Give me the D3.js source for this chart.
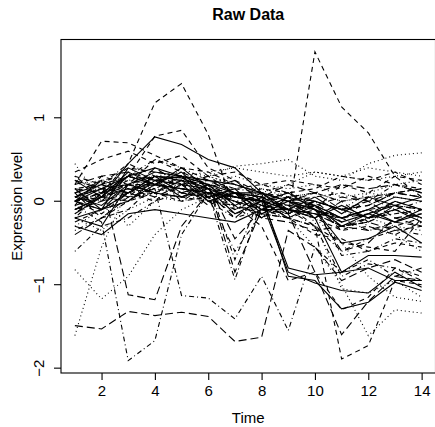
<!DOCTYPE html>
<html>
<head>
<meta charset="utf-8">
<script src="https://cdn.jsdelivr.net/npm/d3@7"></script>
<style>
  body { margin: 0; background: #fff; }
  svg { display: block; font-family: "Liberation Sans", Arial, Helvetica, sans-serif; }
</style>
</head>
<body>
<div id="chart"></div>
<script>
// time points
var times = [1, 2, 3, 4, 5, 6, 7, 8, 9, 10, 11, 12, 13, 14];
var xTicks = [2, 4, 6, 8, 10, 12, 14];
var yTicks = [-2, -1, 0, 1];

// one row per gene, line type cycles solid / dashed / dotted / dotdash / longdash
var seriesA = [
  [-0.1, 0.05, 0.45, 0.77, 0.68, 0.5, 0.4, 0.1, -0.9, -0.95, -1.29, -1.21, -0.97, -1.07],
  [0.05, 0.15, 0.2, 0.1, 0.0, 0.05, -0.15, -0.05, -0.15, 1.79, 1.13, 0.82, 0.3, 0.05],
  [0.1, 0.2, 0.25, 0.3, 0.2, 0.3, 0.42, 0.45, 0.5, 0.3, 0.25, 0.45, 0.55, 0.58],
  [-0.05, -0.25, -1.91, -1.67, -0.4, 0.1, 0.05, 0.0, -0.1, -0.15, -0.3, -0.25, -0.1, -0.2],
  [-1.49, -1.53, -1.32, -1.37, -1.33, -1.38, -1.68, -1.63, -0.35, -0.55, -0.95, -0.8, -0.7, -0.85],
  [0.0, -0.1, 0.1, 0.3, 0.28, 0.15, 0.05, 0.0, -0.85, -0.98, -1.07, -1.1, -0.85, -1.03],
  [0.0, 0.1, 0.45, 1.18, 1.41, 0.8, -0.1, 0.05, -0.1, -0.2, -0.35, -0.2, -0.1, -0.2],
  [-1.61, -0.55, 0.15, 0.2, 0.15, 0.1, 0.0, 0.05, -0.05, 0.0, -0.1, 0.1, 0.05, 0.0],
  [0.3, 0.05, 0.2, 0.15, -1.13, -1.16, -1.41, -0.9, -1.55, -0.55, -0.85, -0.7, -0.9, -0.8],
  [0.1, 0.25, -1.12, -1.18, -0.3, 0.1, 0.05, 0.0, -0.1, -0.05, -0.2, -0.15, 0.0, -0.1]
];
var seriesB = [
  [-0.2, -0.3, 0.2, 0.35, 0.3, 0.2, 0.1, 0.05, -0.8, -0.88, -0.85, -0.65, -0.65, -0.67],
  [0.2, 0.72, 0.7, 0.55, 0.4, 0.35, 0.2, 0.1, 0.0, -0.1, 0.2, 0.1, 0.3, 0.25],
  [-0.82, -1.17, -0.9, -0.4, -0.1, 0.05, 0.1, 0.0, 0.05, 0.1, 0.0, 0.05, 0.1, 0.05],
  [0.0, 0.1, 0.25, 0.2, 0.15, 0.1, -0.94, 0.0, -0.05, -0.1, -0.2, -0.1, -0.05, -0.1],
  [0.15, 0.1, 0.3, 0.2, 0.25, 0.2, -0.85, -0.1, 0.05, 0.0, -0.1, -0.05, 0.1, 0.05],
  [-0.3, -0.4, -0.15, -0.1, -0.15, -0.2, -0.25, -0.1, -0.1, -0.15, -0.2, -0.1, 0.05, 0.0],
  [0.1, 0.2, 0.3, 0.78, 0.85, 0.4, 0.25, 0.1, 0.05, 0.0, -0.1, -0.05, 0.1, 0.15],
  [0.0, 0.05, 0.1, 0.15, 0.1, 0.05, 0.0, -0.1, -0.2, -0.55, -1.0, -1.61, -1.3, -1.34],
  [-0.2, 0.1, 0.3, 0.25, 0.2, 0.15, 0.05, -0.05, -0.1, -0.3, -0.6, -0.45, -0.35, -0.4],
  [0.05, 0.15, 0.2, 0.3, 0.25, 0.15, 0.1, 0.0, -0.05, -0.1, -0.6, -0.5, -0.2, -0.3]
];
var seriesC = [
  [0.15, -0.1, 0.4, 0.25, 0.3, 0.0, 0.1, -0.1, 0.05, -0.05, -0.2, -0.1, -0.25, -0.1],
  [0.0, 0.1, 0.2, 0.2, 0.1, 0.05, -0.1, 0.0, -0.2, -0.3, -1.89, -1.73, -0.95, -1.0],
  [0.45, 0.0, 0.3, 0.2, 0.15, 0.1, 0.05, 0.1, 0.0, -0.05, -0.3, -0.2, -0.3, -0.35],
  [-0.15, 0.1, 0.05, 0.3, 0.0, 0.2, -0.1, 0.05, -0.1, 0.0, -0.25, 0.05, -0.1, 0.0],
  [0.2, 0.3, 0.35, 0.25, 0.2, 0.3, 0.1, 0.05, 0.0, -0.05, 0.05, 0.0, 0.1, 0.05],
  [0.05, 0.2, 0.1, 0.3, 0.1, 0.2, -0.05, 0.1, -0.15, 0.0, -0.1, -0.2, 0.0, -0.1],
  [-0.25, -0.1, 0.1, 0.0, 0.2, 0.25, 0.1, -0.2, -0.05, -0.3, -0.5, -0.55, -0.6, -0.2],
  [-0.1, 0.1, -0.3, 0.0, 0.25, 0.3, 0.2, 0.15, 0.05, -0.25, -1.05, -1.1, -0.95, -1.15],
  [0.15, 0.2, 0.05, 0.1, 0.3, 0.2, -0.7, 0.1, 0.0, -0.1, -0.3, -0.2, -0.15, -0.1],
  [-0.05, 0.05, 0.15, 0.2, 0.15, 0.1, 0.0, -0.1, -0.15, -0.85, -1.6, -1.2, -0.9, -0.95]
];
var seriesD = [
  [-0.15, 0.05, 0.3, 0.2, 0.35, 0.05, 0.15, -0.15, 0.0, -0.2, -0.05, -0.2, -0.1, -0.25],
  [0.3, 0.2, 0.4, 0.35, 0.3, 0.25, 0.15, 0.2, 0.1, 0.15, 0.3, 0.25, 0.35, 0.2],
  [0.2, 0.25, 0.3, 0.2, 0.3, 0.35, 0.4, 0.35, 0.3, 0.35, 0.3, 0.25, 0.3, 0.35],
  [0.0, -0.15, 0.1, 0.2, 0.15, 0.0, -0.2, -0.1, -0.15, -0.05, -0.65, -0.6, -0.45, -0.5],
  [-0.4, -0.2, 0.05, 0.15, 0.3, 0.1, -0.2, 0.05, 0.2, 0.1, -0.1, 0.0, -0.2, -0.15],
  [0.05, -0.05, 0.2, 0.1, 0.25, 0.0, 0.1, 0.1, -0.1, 0.05, -0.15, 0.05, -0.05, 0.05],
  [-0.05, 0.3, 0.2, 0.5, 0.35, 0.2, 0.05, 0.15, 0.1, -0.05, -0.35, -0.3, -0.4, -0.25],
  [-0.3, -0.1, 0.05, 0.1, 0.2, 0.15, 0.1, 0.05, 0.1, 0.0, -0.1, -0.3, -0.4, -0.6],
  [0.1, 0.0, 0.3, 0.5, 0.4, 0.25, 0.1, 0.0, 0.05, 0.1, 0.0, 0.05, 0.1, 0.15],
  [0.0, -0.1, 0.2, 0.1, 0.05, 0.2, -0.45, -0.1, 0.0, 0.1, 0.2, 0.15, 0.2, 0.1]
];
var seriesE = [
  [0.25, 0.05, 0.35, 0.2, 0.4, 0.15, 0.25, 0.0, 0.1, -0.1, -0.25, -0.15, -0.05, -0.2],
  [0.1, -0.2, -0.1, 0.2, 0.15, 0.05, -0.05, -0.15, -0.2, -0.4, -0.45, -0.6, -0.5, -0.55],
  [0.05, 0.15, 0.1, 0.3, 0.35, 0.3, 0.2, 0.1, 0.2, 0.35, 0.3, 0.4, 0.35, 0.3],
  [-0.35, -0.2, 0.0, 0.1, 0.05, 0.1, 0.0, -0.1, -0.2, -0.3, -0.9, -0.75, -0.8, -0.9],
  [0.25, 0.15, 0.1, 0.4, 0.2, 0.05, 0.1, -0.05, -0.1, -0.15, -0.3, -0.35, -0.25, -0.3],
  [-0.1, 0.05, 0.0, 0.25, 0.05, 0.15, -0.15, 0.0, -0.2, -0.05, -0.3, -0.15, -0.25, -0.15],
  [0.35, 0.5, 0.6, 0.45, 0.55, 0.3, 0.35, 0.2, 0.25, 0.2, 0.15, 0.3, 0.2, 0.15],
  [-0.2, -0.35, -0.1, 0.05, 0.0, 0.1, 0.05, 0.0, -0.1, -0.2, -0.5, -0.9, -1.15, -1.2],
  [0.1, 0.2, 0.45, 0.3, 0.25, 0.2, 0.15, 0.1, 0.0, 0.05, 0.1, 0.0, 0.2, 0.1],
  [-0.1, 0.0, 0.1, 0.25, 0.2, 0.15, 0.0, -0.2, -0.25, -0.35, -0.3, -0.25, -0.35, -0.3]
];
var seriesF = [
  [-0.2, -0.1, 0.0, 0.2, 0.15, 0.1, 0.05, 0.0, -0.1, -0.2, -0.85, -0.8, -0.95, -0.95],
  [0.0, 0.05, 0.15, 0.1, 0.05, 0.0, -0.05, -0.3, -0.95, -0.85, -1.3, -1.15, -0.8, -0.95],
  [0.3, 0.1, 0.2, 0.25, 0.35, 0.2, 0.3, 0.2, 0.15, 0.2, 0.05, 0.1, 0.2, 0.25],
  [-0.6, -0.3, -0.2, 0.0, 0.1, 0.05, -0.6, -0.15, -0.2, -0.1, -0.2, -0.35, -0.3, -0.2],
  [0.0, 0.25, 0.15, 0.05, 0.2, -0.05, 0.1, -0.2, 0.05, -0.2, 0.0, -0.25, -0.05, -0.1],
  [0.0, 0.15, 0.3, 0.4, 0.3, 0.25, 0.2, 0.1, 0.0, -0.1, -0.5, -0.45, -0.3, -0.5]
];

var series = [].concat(seriesA, seriesB, seriesC, seriesD, seriesE, seriesF);

// R lty 1:5
var dashes = [null, "5,4", "1,3", "1,3,5,3", "8,4"];

var width = 435, height = 427;
var plot = { left: 61, top: 39.5, right: 435.5, bottom: 373 };

var svg = d3.select("#chart").append("svg")
    .attr("width", width)
    .attr("height", height);

// R-style 4% padding around the data range
var xExt = d3.extent(times);
var yExt = d3.extent(d3.merge(series));
var xPad = (xExt[1] - xExt[0]) * 0.04;
var yPad = (yExt[1] - yExt[0]) * 0.04;

var x = d3.scaleLinear()
    .domain([xExt[0] - xPad, xExt[1] + xPad])
    .range([plot.left, plot.right]);
var y = d3.scaleLinear()
    .domain([yExt[0] - yPad, yExt[1] + yPad])
    .range([plot.bottom, plot.top]);

svg.append("defs").append("clipPath")
    .attr("id", "plot-clip")
  .append("rect")
    .attr("x", plot.left)
    .attr("y", plot.top)
    .attr("width", plot.right - plot.left)
    .attr("height", plot.bottom - plot.top);

var line = d3.line()
    .x(function(d, i) { return x(times[i]); })
    .y(function(d) { return y(d); });

svg.append("g")
    .attr("clip-path", "url(#plot-clip)")
    .selectAll("path")
    .data(series)
    .enter()
    .append("path")
    .attr("d", line)
    .attr("fill", "none")
    .attr("stroke", "#000")
    .attr("stroke-width", 1.1)
    .attr("stroke-dasharray", function(d, i) { return dashes[i % 5]; });

// box
svg.append("rect")
    .attr("x", plot.left)
    .attr("y", plot.top)
    .attr("width", plot.right - plot.left)
    .attr("height", plot.bottom - plot.top)
    .attr("fill", "none")
    .attr("stroke", "#000")
    .attr("stroke-width", 1.1);

// x axis
var xAxis = svg.append("g")
    .attr("transform", "translate(0," + plot.bottom + ")")
    .call(d3.axisBottom(x).tickValues(xTicks).tickSize(7).tickPadding(5).tickFormat(d3.format("d")));
xAxis.select(".domain").remove();
xAxis.selectAll("line").attr("stroke", "#000").attr("stroke-width", 1.1);
xAxis.selectAll("text")
    .attr("font-size", 15)
    .attr("font-family", "Liberation Sans, Arial, sans-serif")
    .attr("fill", "#000");

// y axis with rotated labels like R's las=0
var yAxis = svg.append("g")
    .attr("transform", "translate(" + plot.left + ",0)")
    .call(d3.axisLeft(y).tickValues(yTicks).tickSize(7).tickFormat(function(d) { return d < 0 ? "\u2212" + Math.abs(d) : d; }));
yAxis.select(".domain").remove();
yAxis.selectAll("line").attr("stroke", "#000").attr("stroke-width", 1.1);
yAxis.selectAll("text")
    .attr("font-size", 15)
    .attr("font-family", "Liberation Sans, Arial, sans-serif")
    .attr("fill", "#000")
    .attr("x", null)
    .attr("dy", null)
    .attr("text-anchor", "middle")
    .attr("transform", function(d) { return "translate(-17," + y(d) + ") rotate(-90)"; })
    .attr("y", 0);
yAxis.selectAll(".tick").attr("transform", null);
yAxis.selectAll(".tick line")
    .attr("y1", function(d) { return y(d); })
    .attr("y2", function(d) { return y(d); });

// title and labels
svg.append("text")
    .attr("x", (plot.left + plot.right) / 2)
    .attr("y", 20)
    .attr("text-anchor", "middle")
    .attr("font-size", 16)
    .attr("font-weight", "bold")
    .attr("fill", "#000")
    .text("Raw Data");

svg.append("text")
    .attr("x", (plot.left + plot.right) / 2)
    .attr("y", 423)
    .attr("text-anchor", "middle")
    .attr("font-size", 15)
    .attr("fill", "#000")
    .text("Time");

svg.append("text")
    .attr("transform", "translate(22," + (plot.top + plot.bottom) / 2 + ") rotate(-90)")
    .attr("text-anchor", "middle")
    .attr("font-size", 15)
    .attr("fill", "#000")
    .text("Expression level");
</script>
</body>
</html>
